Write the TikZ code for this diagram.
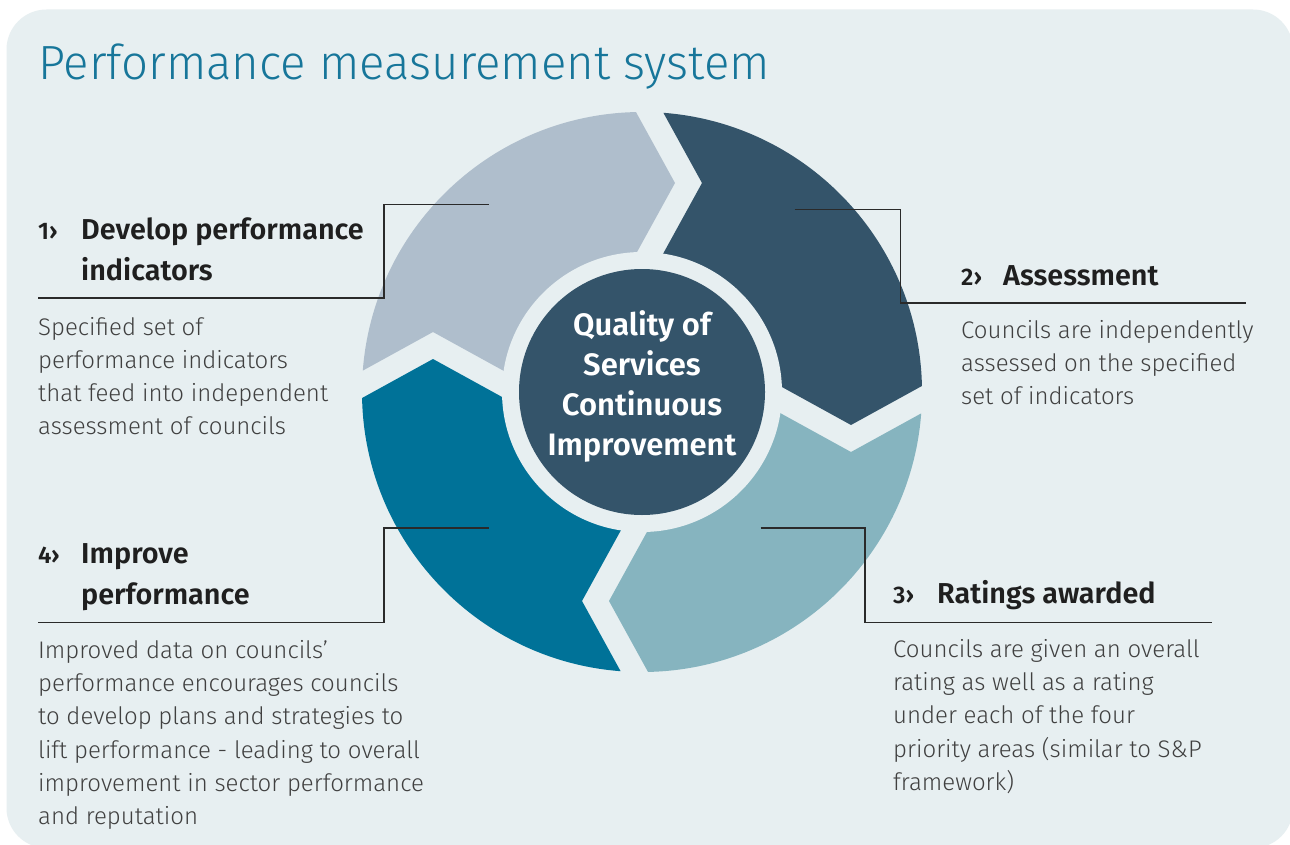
\documentclass[tikz,border=0pt]{standalone}
\usepackage{fontspec}
\IfFontExistsTF{Fira Sans Light}{%
  \newfontfamily\titlefont{Fira Sans Light}%
  \newfontfamily\bodyfont{Fira Sans Light}%
}{%
  \newfontfamily\titlefont{Fira Sans}%
  \newfontfamily\bodyfont{Fira Sans}%
}
\IfFontExistsTF{Fira Sans SemiBold}{%
  \newfontfamily\headfont{Fira Sans SemiBold}%
}{%
  \IfFontExistsTF{Fira Sans Medium}{%
    \newfontfamily\headfont{Fira Sans Medium}%
  }{%
    \newfontfamily\headfont{Fira Sans}[FakeBold=2]%
  }%
}
\IfFontExistsTF{Fira Sans SemiBold}{%
  \newfontfamily\centerfont{Fira Sans SemiBold}%
}{%
  \newfontfamily\centerfont{Fira Sans Bold}%
}
\definecolor{bgc}{HTML}{E7EFF1}
\definecolor{titlec}{HTML}{17769A}
\definecolor{segA}{HTML}{AFBECC}
\definecolor{segB}{HTML}{34546A}
\definecolor{segC}{HTML}{86B4BF}
\definecolor{segD}{HTML}{007298}
\definecolor{headc}{HTML}{1F1F1F}
\definecolor{bodyc}{HTML}{404040}
\definecolor{linec}{HTML}{2A2A2A}
\begin{document}
\begin{tikzpicture}[x=1pt,y=1pt,
  conn/.style={draw=linec, line width=1.6pt},
  numtxt/.style={anchor=base west, inner sep=0, text=headc, font=\headfont\fontsize{24}{30}\selectfont},
  headtxt/.style={anchor=base west, inner sep=0, text=headc, font=\headfont\fontsize{28.8}{40.7}\selectfont},
  bodytxt/.style={anchor=base west, inner sep=0, text=bodyc, font=\bodyfont\fontsize{24}{33.3}\selectfont},
  segpoly/.style={fill=#1}]
\useasboundingbox (0,0) rectangle (1290,-845);
\fill[white] (0,0) rectangle (1290,-845);
\fill[bgc, rounded corners=40pt] (6.5,-9.5) rectangle (1293,-848);

% title
\node[anchor=base west, inner sep=0, text=titlec, font=\titlefont\fontsize{48}{52}\selectfont] (title) at (38,-79.3) {\scalebox{0.986}[1]{Performance measurement system}};

% ring
\begin{scope}[shift={(642,-392)}]
  \begin{scope}
    \clip (0,0) circle (280);
    \foreach \ang/\col in {0/segA, -90/segB, -180/segC, -270/segD} {
      \fill[segpoly=\col, rotate=\ang] (-90,-5.45) -- (-209,60) -- (-330,-6.55) -- (-420,420) -- (-33.55,330) -- (33,209) -- (-32.45,90) -- cycle;
    }
  \end{scope}
  \fill[bgc] (0,0) circle (140);
  \fill[segB] (0,0) circle (123);
\end{scope}

\node[anchor=base, inner sep=0, text=white, font=\centerfont\fontsize{31}{40}\selectfont] (core) at (642,-335)
  {\parbox[t]{320pt}{\centering Quality of\\Services\\Continuous\\Improvement}};

% connector end points
\coordinate (c1s) at (488.5,-204.5);
\coordinate (c1e) at (38,-297.7);
\coordinate (c2s) at (794.6,-209.5);
\coordinate (c2e) at (1245.5,-303);
\coordinate (c3s) at (760.5,-528);
\coordinate (c3e) at (1211.5,-622.3);
\coordinate (c4s) at (488.5,-528);
\coordinate (c4e) at (38,-622.3);

\draw[conn] (c1s) -- ++(-104.5,0) |- (c1e);
\draw[conn] (c2s) -- ++(105.9,0) |- (c2e);
\draw[conn] (c3s) -- ++(104.5,0) |- (c3e);
\draw[conn] (c4s) -- ++(-104.5,0) |- (c4e);

% step 1
\node[numtxt] (n1) at (38,-240) {1›};
\node[headtxt] (h1) at (81,-240) {\parbox[t]{320pt}{\raggedright Develop performance\\indicators}};
\node[bodytxt] (b1) at (38,-335) {\parbox[t]{340pt}{\raggedright Specified set of\\performance indicators\\that feed into independent\\assessment of councils}};

% step 2
\node[numtxt] (n2) at (961,-285) {2›};
\node[headtxt] (h2) at (1003,-285) {Assessment};
\node[bodytxt] (b2) at (961,-338.3) {\parbox[t]{320pt}{\raggedright Councils are independently\\assessed on the specified\\set of indicators}};

% step 3
\node[numtxt] (n3) at (893,-603.3) {3›};
\node[headtxt] (h3) at (937,-603.3) {Ratings awarded};
\node[bodytxt] (b3) at (893,-657.3) {\parbox[t]{360pt}{\raggedright Councils are given an overall\\rating as well as a rating\\under each of the four\\priority areas (similar to S\&P\\framework)}};

% step 4
\node[numtxt] (n4) at (38,-563.3) {4›};
\node[headtxt] (h4) at (81,-563.3) {\parbox[t]{320pt}{\raggedright Improve\\performance}};
\node[bodytxt] (b4) at (38,-658.3) {\parbox[t]{440pt}{\raggedright Improved data on councils’\\performance encourages councils\\to develop plans and strategies to\\lift performance - leading to overall\\improvement in sector performance\\and reputation}};
\end{tikzpicture}
\end{document}
